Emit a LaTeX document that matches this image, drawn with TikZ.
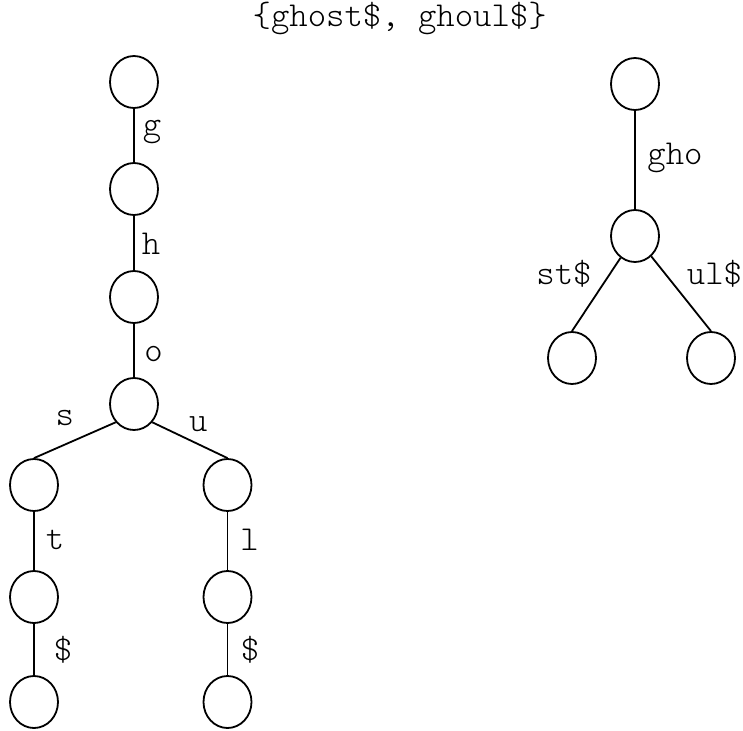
\documentclass[tikz,border=0pt]{standalone}
\usepackage{fontspec}
\setmonofont{Latin Modern Mono Light}
\usetikzlibrary{shapes.geometric}
\begin{document}
\begin{tikzpicture}[x=1pt,y=-1pt,
  vert/.style={draw,ellipse,line width=1.8pt,minimum width=48pt,minimum height=52pt,inner sep=0pt},
  lbl/.style={inner sep=0pt,anchor=center,font=\fontsize{35}{40}\selectfont\ttfamily},
  edge/.style={line width=1.8pt}]
\useasboundingbox (0,0) rectangle (743,730);
\node[lbl] (title) at (399.7,18) {\{ghost\$, ghoul\$\}};
% left trie
\node[vert] (l1) at (134,82) {};
\node[vert] (l2) at (134,189) {};
\node[vert] (l3) at (134,297) {};
\node[vert] (l4) at (134,404) {};
\node[vert] (l5a) at (34,485) {};
\node[vert] (l5b) at (227.5,485) {};
\node[vert] (l6a) at (34,597) {};
\node[vert] (l6b) at (227.5,597) {};
\node[vert] (l7a) at (34,702) {};
\node[vert] (l7b) at (227.5,702) {};
\draw[edge] (l1) -- (l2);
\draw[edge] (l2) -- (l3);
\draw[edge] (l3) -- (l4);
\draw[edge] (l4.225) -- (l5a.north);
\draw[edge] (l4.315) -- (l5b.north);
\draw[edge] (l5a) -- (l6a);
\draw[edge] (l6a) -- (l7a);
\draw[edge] (l5b) -- (l6b);
\draw[edge] (l6b) -- (l7b);
\node[lbl] (lg) at (152,131.7) {g};
\node[lbl] (lh) at (151,244) {h};
\node[lbl] (lo) at (153.5,353.7) {o};
\node[lbl] (ls) at (64.7,418) {s};
\node[lbl] (lu) at (198.4,423.7) {u};
\node[lbl] (lt) at (55,540) {t};
\node[lbl] (ll) at (249.5,540) {l};
\node[lbl] (ld1) at (63,650) {\$};
\node[lbl] (ld2) at (250,650) {\$};
% right (compressed) trie
\node[vert] (r1) at (635,84) {};
\node[vert] (r2) at (635,236) {};
\node[vert] (r3a) at (572,358) {};
\node[vert] (r3b) at (711,358) {};
\draw[edge] (r1) -- (r2);
\draw[edge] (r3a.north) -- (r2);
\draw[edge] (r3b.north) -- (r2);
\node[lbl] (rgho) at (675,158) {gho};
\node[lbl] (rst) at (564,274) {st\$};
\node[lbl] (rul) at (714.5,274) {ul\$};
\end{tikzpicture}
\end{document}
